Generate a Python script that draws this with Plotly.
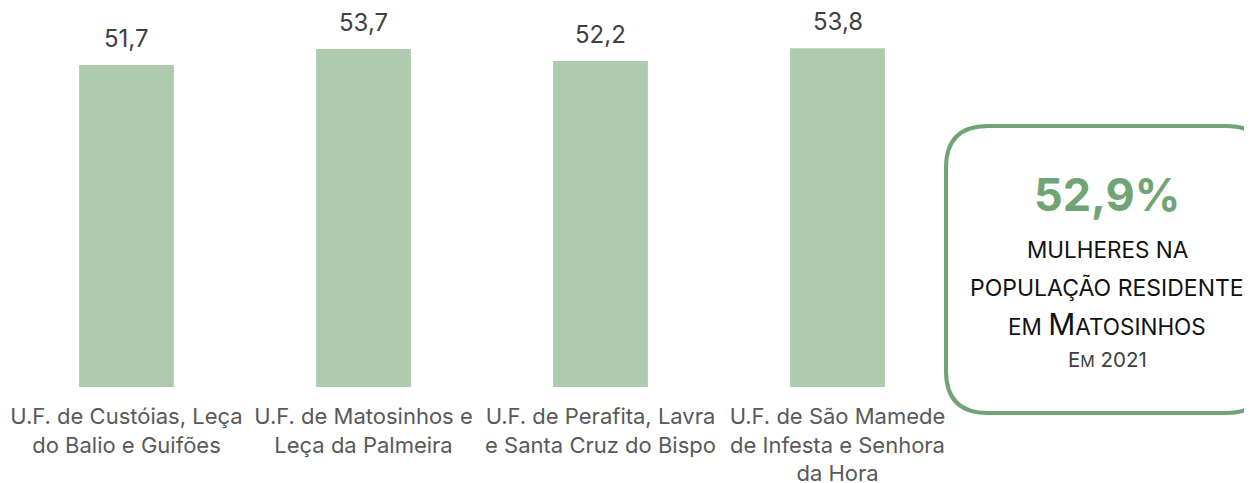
import plotly.graph_objects as go

categories = [
    "U.F. de Custóias, Leça<br>do Balio e Guifões",
    "U.F. de Matosinhos e<br>Leça da Palmeira",
    "U.F. de Perafita, Lavra<br>e Santa Cruz do Bispo",
    "U.F. de São Mamede<br>de Infesta e Senhora<br>da Hora",
]
values = [51.7, 53.7, 52.2, 53.8]
value_labels = ["51,7", "53,7", "52,2", "53,8"]
kpi_value = "52,9%"

OFF = 8  # page body margin
W_FIG, H_FIG = 1252 - OFF, 483 - OFF
L, T = 0, 0
PW = 948
R = W_FIG - L - PW
B = H_FIG - (387 - OFF)
PH = H_FIG - T - B

FONT = "Inter"
BAR_COLOR = "#AFCBAF"
GREEN = "#71A474"

fig = go.Figure(
    go.Bar(
        x=categories,
        y=values,
        marker=dict(color=BAR_COLOR, line=dict(width=0)),
        hoverinfo="skip",
    )
)

for c, v, t in zip(categories, values, value_labels):
    fig.add_annotation(
        x=c, y=v, text=t, showarrow=False, yanchor="bottom", yshift=10,
        font=dict(family=FONT, size=24, color="#404040"),
    )


def px2x(px):
    return (px - OFF - L) / PW


def py2y(py):
    return (H_FIG - B - (py - OFF)) / PH


# rounded box
x0, x1, y0, y1, r = 946, 1268, 126, 413, 42
rx, ry = r / PW, r / PH
X0, X1, Y0, Y1 = px2x(x0), px2x(x1), py2y(y0), py2y(y1)
path = (
    f"M {X0+rx},{Y0} L {X1-rx},{Y0} Q {X1},{Y0} {X1},{Y0-ry} "
    f"L {X1},{Y1+ry} Q {X1},{Y1} {X1-rx},{Y1} "
    f"L {X0+rx},{Y1} Q {X0},{Y1} {X0},{Y1+ry} "
    f"L {X0},{Y0-ry} Q {X0},{Y0} {X0+rx},{Y0} Z"
)
fig.add_shape(type="path", path=path, xref="paper", yref="paper",
              line=dict(color=GREEN, width=4), fillcolor="rgba(0,0,0,0)")

cx = px2x(1107)
common = dict(xref="paper", yref="paper", showarrow=False, xanchor="center", yanchor="middle")
fig.add_annotation(x=cx, y=py2y(194), text=f"<b>{kpi_value}</b>",
                   font=dict(family=FONT, size=45, color=GREEN), **common)
fig.add_annotation(x=cx, y=py2y(249), text="MULHERES NA",
                   font=dict(family=FONT, size=22.5, color="#111111"), **common)
fig.add_annotation(x=cx, y=py2y(288), text="POPULAÇÃO RESIDENTE",
                   font=dict(family=FONT, size=23, color="#111111"), **common)
fig.add_annotation(x=cx, y=py2y(324), text="EM <span style='font-size:30px'>M</span>ATOSINHOS",
                   font=dict(family=FONT, size=22.5, color="#111111"), **common)
fig.add_annotation(x=cx, y=py2y(359), text="E<span style='font-size:16px'>M</span> 2021",
                   font=dict(family=FONT, size=20.5, color="#404040"), **common)

fig.update_layout(
    width=W_FIG, height=H_FIG,
    margin=dict(l=L, r=R, t=T, b=B, pad=0, autoexpand=False),
    paper_bgcolor="white", plot_bgcolor="white",
    bargap=0.6, showlegend=False,
    xaxis=dict(showline=False, showgrid=False, zeroline=False, ticks="",
               tickfont=dict(family=FONT, size=22, color="#595959"),
               ticklabelstandoff=14),
    yaxis=dict(range=[11.45, 11.45 + PH / 8], visible=False, showgrid=False),
)

fig.write_html("out.html")
